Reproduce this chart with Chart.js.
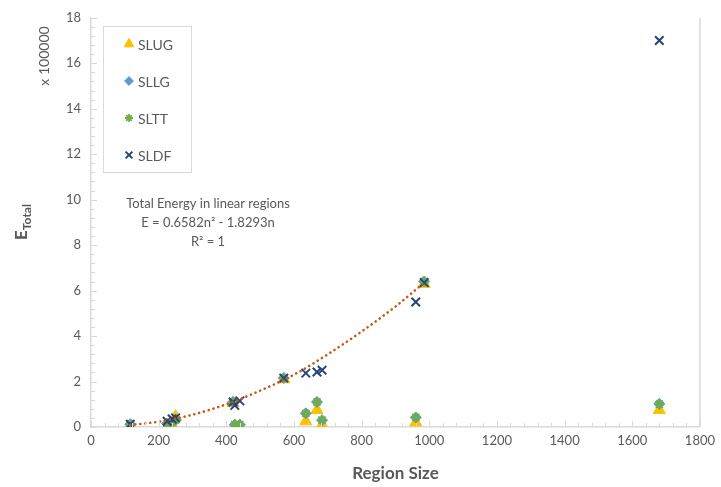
<!DOCTYPE html>
<html>
<head>
<meta charset="utf-8">
<script src="https://cdn.jsdelivr.net/npm/chart.js@4.4.1/dist/chart.umd.min.js"></script>
<style>
html,body{margin:0;padding:0;background:#fff;}
#wrap{width:721px;height:487px;position:relative;}
</style>
</head>
<body>
<div id="wrap"><canvas id="chart" width="721" height="487"></canvas></div>
<script>
// ================= Data (energy in units of 100000) =================
const regionSize = [116, 225, 240, 250, 420, 425, 440, 570, 635, 668, 683, 960, 985, 1680];
const slug = [0.05, 0.02, 0.10, 0.45, 1.05, 0.05, 0.05, 2.10, 0.25, 0.75, 0.10, 0.20, 6.30, 0.75];
const sllg = [0.12, 0.15, 0.20, 0.30, 1.10, 0.10, 0.10, 2.15, 0.60, 1.10, 0.30, 0.42, 6.40, 1.02];
const sltt = [0.12, 0.15, 0.20, 0.30, 1.10, 0.10, 0.10, 2.15, 0.60, 1.10, 0.30, 0.42, 6.40, 1.00];
const sldf = [0.12, 0.25, 0.35, 0.40, 1.10, 0.95, 1.15, 2.15, 2.37, 2.42, 2.50, 5.50, 6.35, 17.0];
// dotted trend curve
const trendX = [116, 200, 300, 400, 500, 600, 700, 800, 900, 985];
const trendY = [0.09, 0.23, 0.54, 1.0, 1.6, 2.3, 3.2, 4.2, 5.3, 6.35];
const xTicks = [0, 200, 400, 600, 800, 1000, 1200, 1400, 1600, 1800];
const yTicks = [0, 2, 4, 6, 8, 10, 12, 14, 16, 18];
const trendText = ['Total Energy in linear regions', 'E = 0.6582n\u00b2 - 1.8293n', 'R\u00b2 = 1'];

const FONT = 'Lato, Calibri, sans-serif';
const GRAY = '#595959';
const AXIS = '#D9D9D9';

const pts = (xs, ys) => xs.map((x, i) => ({x: x, y: ys[i]}));

// ================= Extras: minor ticks, titles, legend, label =================
const extras = {
    id: 'extras',
    afterDraw(chart){
        const ctx = chart.ctx, a = chart.chartArea, sx = chart.scales.x, sy = chart.scales.y;
        ctx.save();
        // right border
        ctx.strokeStyle = AXIS; ctx.lineWidth = 1.5;
        ctx.beginPath(); ctx.moveTo(a.right, a.top); ctx.lineTo(a.right, a.bottom); ctx.stroke();
        // ticks (inside)
        ctx.lineWidth = 1;
        for(let v = 0; v <= 1800; v += 40){
            const px = Math.round(sx.getPixelForValue(v)) + 0.5, len = v % 200 === 0 ? 6 : 4;
            ctx.beginPath(); ctx.moveTo(px, a.bottom); ctx.lineTo(px, a.bottom - len); ctx.stroke();
        }
        for(let i = 0; i <= 45; i++){
            const v = i * 0.4, py = Math.round(sy.getPixelForValue(v)) + 0.5, len = i % 5 === 0 ? 6 : 4;
            ctx.beginPath(); ctx.moveTo(a.left, py); ctx.lineTo(a.left + len, py); ctx.stroke();
        }
        // axis titles
        ctx.fillStyle = GRAY;
        ctx.textBaseline = 'middle';
        ctx.font = 'bold 17px ' + FONT; ctx.textAlign = 'center';
        ctx.fillText('Region Size', (a.left + a.right) / 2, 474);
        ctx.save();
        ctx.translate(22, 222); ctx.rotate(-Math.PI / 2);
        ctx.font = 'bold 17px ' + FONT;
        const eW = ctx.measureText('E').width;
        ctx.font = 'bold 12px ' + FONT;
        const tW = ctx.measureText('Total').width;
        ctx.textAlign = 'left';
        ctx.font = 'bold 17px ' + FONT;
        ctx.fillText('E', -(eW + tW) / 2, 0);
        ctx.font = 'bold 12px ' + FONT;
        ctx.fillText('Total', -(eW + tW) / 2 + eW, 5);
        ctx.restore();
        ctx.save();
        ctx.translate(44, 56); ctx.rotate(-Math.PI / 2);
        ctx.font = '14px ' + FONT; ctx.textAlign = 'center';
        ctx.fillText('x 100000', 0, 0);
        ctx.restore();
        // trend label
        ctx.font = '13px ' + FONT; ctx.textAlign = 'center';
        trendText.forEach((t, i) => ctx.fillText(t, 208, 204 + i * 19));
        // legend
        ctx.fillStyle = '#fff'; ctx.strokeStyle = AXIS; ctx.lineWidth = 1;
        ctx.fillRect(103.5, 26.5, 88, 146); ctx.strokeRect(103.5, 26.5, 88, 146);
        chart.data.datasets.filter(d => d.label !== 'trend').forEach((d, i) => {
            const y = 44 + i * 37;
            ctx.fillStyle = d.backgroundColor; ctx.strokeStyle = d.borderColor; ctx.lineWidth = d.borderWidth;
            Chart.helpers.drawPoint(ctx, {pointStyle: d.pointStyle, radius: d.pointRadius * 0.8, borderWidth: d.borderWidth}, 129, y);
            ctx.fillStyle = GRAY; ctx.font = '14px ' + FONT; ctx.textAlign = 'left';
            ctx.fillText(d.label, 138, y + 1);
        });
        ctx.restore();
    }
};

new Chart(document.getElementById('chart').getContext('2d'), {
    type: 'scatter',
    data: {
        datasets: [
            {label: 'SLUG', data: pts(regionSize, slug), pointStyle: 'triangle', pointRadius: 7, borderWidth: 1,
             backgroundColor: '#FFC000', borderColor: '#FFC000', order: 4},
            {label: 'SLLG', data: pts(regionSize, sllg), pointStyle: 'rectRot', pointRadius: 5.5, borderWidth: 1,
             backgroundColor: '#5B9BD5', borderColor: '#5B9BD5', order: 3},
            {label: 'SLTT', data: pts(regionSize, sltt), pointStyle: 'star', pointRadius: 5, borderWidth: 1.8,
             backgroundColor: '#70AD47', borderColor: '#70AD47', order: 2},
            {label: 'SLDF', data: pts(regionSize, sldf), pointStyle: 'crossRot', pointRadius: 6, borderWidth: 2,
             backgroundColor: '#264478', borderColor: '#264478', order: 1},
            {label: 'trend', data: pts(trendX, trendY), showLine: true, pointRadius: 0, borderColor: '#C55A11',
             borderWidth: 2.6, borderDash: [0.1, 4.9], borderCapStyle: 'round',
             cubicInterpolationMode: 'monotone', order: 0}
        ]
    },
    options: {
        responsive: false, animation: false,
        layout: {padding: {top: 17, right: 21, left: 0, bottom: 0}},
        plugins: {legend: {display: false}, tooltip: {enabled: false}},
        scales: {
            x: {
                type: 'linear', min: 0, max: 1800,
                afterBuildTicks: s => { s.ticks = xTicks.map(v => ({value: v})); },
                afterFit: s => { s.height = 60; },
                grid: {display: false, drawTicks: false},
                border: {color: AXIS, width: 1.5},
                ticks: {color: GRAY, font: {family: FONT, size: 13}, padding: 6, maxRotation: 0,
                        callback: v => String(v)}
            },
            y: {
                min: 0, max: 18,
                afterBuildTicks: s => { s.ticks = yTicks.map(v => ({value: v})); },
                afterFit: s => { s.width = 91; },
                grid: {display: false, drawTicks: false},
                border: {color: AXIS, width: 1.5},
                ticks: {color: GRAY, font: {family: FONT, size: 13}, padding: 10, callback: v => String(v)}
            }
        }
    },
    plugins: [extras]
});
</script>
</body>
</html>
